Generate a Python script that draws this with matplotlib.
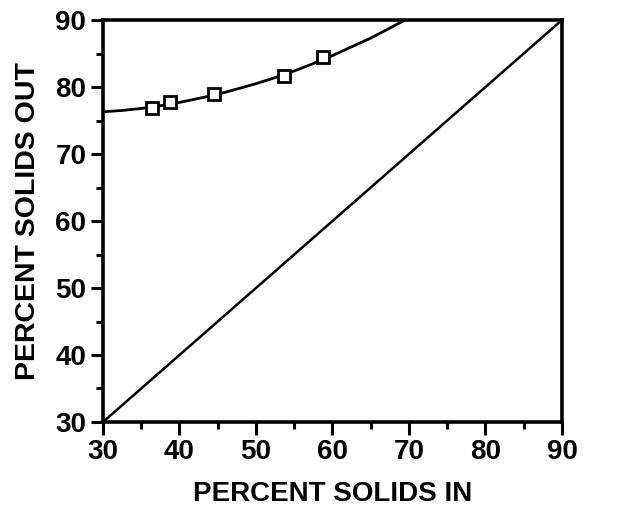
import matplotlib
matplotlib.use('Agg')
import matplotlib.pyplot as plt
from matplotlib.ticker import MultipleLocator

# measured points (percent solids in / out)
pts_in = [36.4, 38.7, 44.5, 53.7, 58.8]
pts_out = [76.9, 77.8, 79.0, 81.6, 84.5]

# fitted curve
curve_in = [30, 32.5, 35, 37.5, 40, 42.5, 45, 47.5, 50, 52.5, 55,
            57.5, 60, 62.5, 65, 67.5, 69.5]
curve_out = [76.3, 76.5, 76.8, 77.2, 77.7, 78.3, 78.9, 79.7, 80.5, 81.4, 82.4,
             83.5, 84.7, 86.0, 87.3, 88.8, 90.0]

# 1:1 line
diag = [30, 90]

plt.rcParams['font.family'] = ['Liberation Sans', 'DejaVu Sans']
plt.rcParams['font.weight'] = 'bold'

fig = plt.figure(figsize=(6.22, 5.08), dpi=100)
ax = fig.add_axes([0.1656, 0.1693, 0.7379, 0.7913])

ax.plot(diag, diag, color='black', lw=1.8)
ax.plot(curve_in, curve_out, color='black', lw=2.0)
ax.plot(pts_in, pts_out, ls='none', marker='s', ms=9, mfc='white',
        mec='black', mew=2.0, zorder=3)

ax.set_xlim(30, 90)
ax.set_ylim(30, 90)
ax.xaxis.set_major_locator(MultipleLocator(10))
ax.xaxis.set_minor_locator(MultipleLocator(5))
ax.yaxis.set_major_locator(MultipleLocator(10))
ax.yaxis.set_minor_locator(MultipleLocator(5))
ax.tick_params(which='major', length=9, width=2.2, direction='out',
               labelsize=20, pad=3)
ax.tick_params(which='minor', length=5, width=2.2, direction='out')
for s in ax.spines.values():
    s.set_linewidth(2.6)

for lab in ax.get_xticklabels() + ax.get_yticklabels():
    lab.set_fontweight('bold')

ax.set_xlabel('PERCENT SOLIDS IN', fontsize=20, fontweight='bold', labelpad=12)
ax.set_ylabel('PERCENT SOLIDS OUT', fontsize=20.5, fontweight='bold', labelpad=10)

fig.savefig('out.png', dpi=100)
